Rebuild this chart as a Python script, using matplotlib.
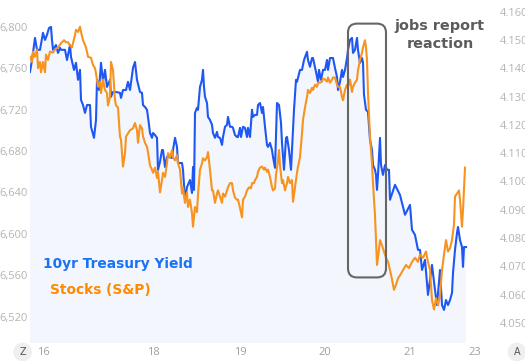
import matplotlib
matplotlib.use("Agg")
import matplotlib.pyplot as plt
from matplotlib.patches import FancyBboxPatch

# time steps (arbitrary intraday units) and values
yield_t = [0, 2, 5, 7, 10, 13, 15, 17, 19, 21, 22, 23, 26, 28, 30, 31, 35, 37, 40, 41,
           44, 46, 48, 50, 51, 53, 55, 57, 60, 61, 64, 66, 67, 69, 71, 73, 75, 77, 80, 81,
           83, 86, 90, 91, 93, 96, 98, 100, 103, 105, 107, 110, 112, 113, 115, 117, 118, 120, 122, 123,
           125, 127, 128, 130, 132, 133, 135, 137, 138, 142, 143, 145, 147, 148, 152, 153, 155, 157, 160, 162,
           163, 164, 165, 167, 168, 170, 172, 173, 174, 175, 177, 178, 180, 182, 183, 185, 187, 188, 190, 192,
           193, 195, 197, 198, 200, 202, 203, 205, 207, 208, 210, 211, 213, 215, 217, 218, 220, 222, 223, 225,
           227, 228, 230, 232, 233, 235, 237, 238, 240, 242, 243, 245, 247, 249, 251, 252, 254, 256, 257, 259,
           261, 262, 264, 266, 267, 270, 272, 274, 277, 278, 280, 282, 283, 286, 288, 289, 291, 293, 295, 297,
           298, 300, 302, 303, 305, 307, 308, 310, 312, 313, 315, 317, 318, 320, 322, 323, 325, 327, 328, 330,
           332, 333, 334, 336, 338, 340, 342, 343, 345, 346, 347, 348, 350, 351, 353, 355, 357, 359, 360, 365,
           370, 375, 380, 382, 385, 388, 390, 392, 395, 398, 400, 402, 405, 407, 410, 412, 414, 416, 418, 420,
           422, 423, 425, 427, 428, 430, 432, 433, 434, 436]
yield_vals = [4.1387, 4.1429, 4.1507, 4.1465, 4.1465, 4.1525, 4.1500, 4.1518, 4.1542, 4.1546,
              4.1500, 4.1465, 4.1482, 4.1454, 4.1472, 4.1465, 4.1465, 4.1429, 4.1482, 4.1440,
              4.1394, 4.1419, 4.1359, 4.1394, 4.1288, 4.1270, 4.1242, 4.1270, 4.1270, 4.1193,
              4.1154, 4.1217, 4.1359, 4.1323, 4.1419, 4.1352, 4.1394, 4.1334, 4.1359, 4.1299,
              4.1316, 4.1316, 4.1313, 4.1295, 4.1323, 4.1323, 4.1352, 4.1323, 4.1401, 4.1422,
              4.1359, 4.1316, 4.1313, 4.1270, 4.1263, 4.1253, 4.1228, 4.1171, 4.1154, 4.1171,
              4.1164, 4.1154, 4.1041, 4.1069, 4.1111, 4.1111, 4.1051, 4.1087, 4.1087, 4.1083,
              4.1111, 4.1154, 4.1122, 4.1065, 4.1065, 4.1041, 4.0935, 4.0980, 4.1005, 4.0959,
              4.1051, 4.0970, 4.1242, 4.1260, 4.1253, 4.1334, 4.1359, 4.1394, 4.1334, 4.1299,
              4.1277, 4.1228, 4.1217, 4.1200, 4.1171, 4.1154, 4.1175, 4.1157, 4.1154, 4.1129,
              4.1157, 4.1193, 4.1200, 4.1228, 4.1193, 4.1193, 4.1189, 4.1164, 4.1157, 4.1157,
              4.1189, 4.1157, 4.1193, 4.1189, 4.1157, 4.1189, 4.1157, 4.1253, 4.1228, 4.1235,
              4.1235, 4.1270, 4.1277, 4.1242, 4.1263, 4.1193, 4.1129, 4.1122, 4.1136, 4.1111,
              4.1087, 4.1048, 4.1277, 4.1270, 4.1207, 4.1136, 4.1041, 4.1154, 4.1157, 4.1111,
              4.1041, 4.1111, 4.1253, 4.1359, 4.1352, 4.1394, 4.1394, 4.1429, 4.1458, 4.1429,
              4.1405, 4.1436, 4.1436, 4.1387, 4.1352, 4.1394, 4.1359, 4.1394, 4.1394, 4.1429,
              4.1394, 4.1436, 4.1436, 4.1436, 4.1401, 4.1369, 4.1323, 4.1352, 4.1394, 4.1369,
              4.1394, 4.1436, 4.1465, 4.1500, 4.1507, 4.1454, 4.1465, 4.1507, 4.1465, 4.1419,
              4.1436, 4.1419, 4.1306, 4.1253, 4.1246, 4.1147, 4.1111, 4.1058, 4.1041, 4.1023,
              4.0970, 4.1023, 4.1154, 4.1058, 4.1023, 4.1058, 4.1041, 4.1041, 4.0935, 4.0988,
              4.0952, 4.0882, 4.0917, 4.0829, 4.0811, 4.0758, 4.0758, 4.0687, 4.0723, 4.0599,
              4.0652, 4.0705, 4.0616, 4.0563, 4.0687, 4.0563, 4.0546, 4.0581, 4.0563, 4.0581,
              4.0606, 4.0677, 4.0758, 4.0818, 4.0839, 4.0793, 4.0768, 4.0698, 4.0768, 4.0768]

spx_t = [0, 2, 3, 5, 7, 8, 10, 11, 13, 15, 16, 18, 20, 23, 25, 28, 31, 34, 36, 38,
         40, 42, 45, 46, 48, 50, 51, 53, 56, 58, 61, 63, 65, 66, 68, 70, 71, 73, 75, 77,
         78, 80, 81, 83, 85, 86, 88, 90, 91, 93, 95, 96, 98, 100, 103, 105, 107, 108, 110, 112,
         113, 115, 117, 118, 120, 122, 123, 125, 127, 128, 130, 132, 133, 135, 137, 138, 140, 142, 143, 145,
         147, 148, 150, 152, 153, 155, 157, 158, 160, 162, 163, 165, 167, 168, 170, 172, 173, 175, 177, 178,
         180, 182, 183, 185, 187, 188, 190, 192, 193, 195, 197, 198, 200, 202, 203, 205, 207, 208, 210, 212,
         213, 215, 217, 219, 221, 222, 224, 225, 227, 228, 230, 232, 234, 235, 237, 238, 240, 242, 243, 245,
         246, 248, 249, 250, 252, 253, 255, 257, 258, 260, 262, 263, 265, 267, 268, 270, 272, 273, 275, 277,
         278, 280, 282, 283, 285, 287, 288, 290, 292, 293, 295, 297, 298, 300, 302, 303, 305, 307, 308, 310,
         312, 313, 315, 317, 318, 320, 322, 323, 325, 327, 328, 330, 332, 333, 335, 336, 337, 338, 340, 342,
         343, 345, 346, 347, 349, 350, 352, 354, 356, 358, 360, 362, 364, 366, 368, 370, 373, 376, 379, 382,
         385, 388, 390, 393, 396, 398, 400, 402, 404, 406, 408, 410, 412, 414, 416, 418, 420, 422, 424, 425,
         427, 429, 430, 432, 433, 435]
spx_vals = [6771, 6766, 6776, 6771, 6778, 6760, 6766, 6756, 6766, 6756, 6773, 6768, 6776, 6775, 6778,
            6780, 6784, 6787, 6785, 6785, 6782, 6780, 6792, 6797, 6795, 6800, 6795, 6787, 6780, 6771,
            6770, 6763, 6760, 6755, 6742, 6747, 6736, 6749, 6739, 6736, 6724, 6732, 6766, 6758, 6729,
            6724, 6722, 6694, 6691, 6665, 6678, 6694, 6697, 6700, 6702, 6707, 6700, 6688, 6705, 6702,
            6694, 6688, 6684, 6679, 6666, 6662, 6659, 6664, 6654, 6660, 6640, 6652, 6659, 6655, 6668,
            6678, 6674, 6681, 6674, 6671, 6676, 6668, 6662, 6639, 6645, 6630, 6640, 6626, 6633, 6620,
            6607, 6626, 6621, 6638, 6662, 6668, 6673, 6671, 6674, 6679, 6662, 6642, 6642, 6630, 6639,
            6642, 6636, 6630, 6639, 6636, 6642, 6645, 6649, 6649, 6642, 6635, 6633, 6633, 6625, 6616,
            6633, 6636, 6642, 6645, 6644, 6649, 6649, 6652, 6655, 6660, 6664, 6665, 6662, 6664, 6660,
            6662, 6655, 6645, 6642, 6644, 6657, 6671, 6681, 6666, 6649, 6652, 6642, 6649, 6655, 6649,
            6652, 6631, 6645, 6659, 6665, 6674, 6697, 6710, 6722, 6732, 6739, 6736, 6741, 6739, 6744,
            6742, 6746, 6746, 6747, 6750, 6749, 6747, 6751, 6746, 6749, 6751, 6751, 6744, 6742, 6742,
            6732, 6729, 6739, 6744, 6742, 6749, 6737, 6742, 6746, 6749, 6758, 6768, 6775, 6780, 6787,
            6780, 6768, 6736, 6694, 6668, 6649, 6618, 6594, 6570, 6585, 6594, 6589, 6583, 6577, 6573,
            6565, 6556, 6546, 6551, 6557, 6560, 6565, 6570, 6567, 6573, 6577, 6573, 6580, 6577, 6583,
            6573, 6565, 6536, 6527, 6538, 6531, 6541, 6565, 6580, 6594, 6583, 6586, 6594, 6609, 6636,
            6639, 6642, 6633, 6607, 6623, 6664]

day_ticks = [13, 123, 210, 295, 380, 445]
day_labels = ["16", "18", "19", "20", "21", "23"]
spx_ticks = [6520, 6560, 6600, 6640, 6680, 6720, 6760, 6800]
yield_ticks = [4.05, 4.06, 4.07, 4.08, 4.09, 4.10, 4.11, 4.12, 4.13, 4.14, 4.15, 4.16]

# jobs report window (time range, S&P range)
event_t = (318, 356)
event_spx = (6558, 6803)

BLUE = "#1f57f2"
ORANGE = "#f7931e"
GREY = "#b4b4b4"
TICK_FONT = "Open Sans"

fig = plt.figure(figsize=(5.25, 3.61), dpi=100)
ax2 = fig.add_axes([30 / 525, 18 / 361, 450 / 525, 343 / 361])
ax = ax2.twinx()
ax2.set_zorder(1)
ax.set_zorder(2)
ax.patch.set_visible(False)

# yield on the right axis, with light fill
ax2.fill_between(yield_t, yield_vals, 4.0, color="#f3f6fd", lw=0)
ax2.plot(yield_t, yield_vals, color=BLUE, lw=1.5)

# stocks on the left axis
ax.plot(spx_t, spx_vals, color=ORANGE, lw=1.5)

# ax2 was created first so it holds the left side; swap label sides
ax2.yaxis.tick_right()
ax.yaxis.tick_left()
ax2.set_yticks(yield_ticks)
ax2.set_yticklabels([f"{v:.3f}" for v in yield_ticks])
ax.set_yticks(spx_ticks)
ax.set_yticklabels([f"{v:,}" for v in spx_ticks])
ax2.set_xticks(day_ticks)
ax2.set_xticklabels(day_labels)

# limits last, so set_ticks cannot widen them
ax2.set_ylim(4.0429, 4.1641)
ax.set_ylim(6494.7, 6825.8)
ax.set_xlim(0, 450)

for a in (ax, ax2):
    for s in a.spines.values():
        s.set_visible(False)
ax.tick_params(axis="y", length=0, pad=1.5, labelsize=8, labelcolor=GREY)
ax.tick_params(axis="x", length=0, labelbottom=False)
ax2.tick_params(axis="y", length=0, pad=14.5, labelsize=8, labelcolor=GREY)
ax2.tick_params(axis="x", length=0, pad=3, labelsize=8, labelcolor="#a0a0a0")
for lab in ax.get_yticklabels() + ax2.get_yticklabels() + ax2.get_xticklabels():
    lab.set_fontfamily(TICK_FONT)

# event box
box = FancyBboxPatch((event_t[0], event_spx[0]), event_t[1] - event_t[0], event_spx[1] - event_spx[0],
                     boxstyle="round,pad=0,rounding_size=9", mutation_aspect=0.965,
                     fill=False, ec="#666666", lw=1.5, zorder=5)
ax.add_patch(box)

fig.text(440 / 525, 1 - 26 / 361, "jobs report", ha="center", va="center", fontsize=10.4,
         fontweight="bold", color="#5c5c5c")
fig.text(440 / 525, 1 - 44 / 361, "reaction", ha="center", va="center", fontsize=10.4,
         fontweight="bold", color="#5c5c5c")
fig.text(43 / 525, 1 - 264 / 361, "10yr Treasury Yield", ha="left", va="center", fontsize=9.9,
         fontweight="bold", color="#1a73f2")
fig.text(50 / 525, 1 - 290 / 361, "Stocks (S&P)", ha="left", va="center", fontsize=9.9,
         fontweight="bold", color="#ff8a00")

# small axis badges
for x, letter in [(22.5 / 525, "Z"), (517 / 525, "A")]:
    fig.text(x, 1 - 352 / 361, letter, ha="center", va="center", fontsize=7, color="#555555",
             bbox=dict(boxstyle="circle,pad=0.45", fc="#efefef", ec="none"))

fig.savefig("out.png", dpi=100)
